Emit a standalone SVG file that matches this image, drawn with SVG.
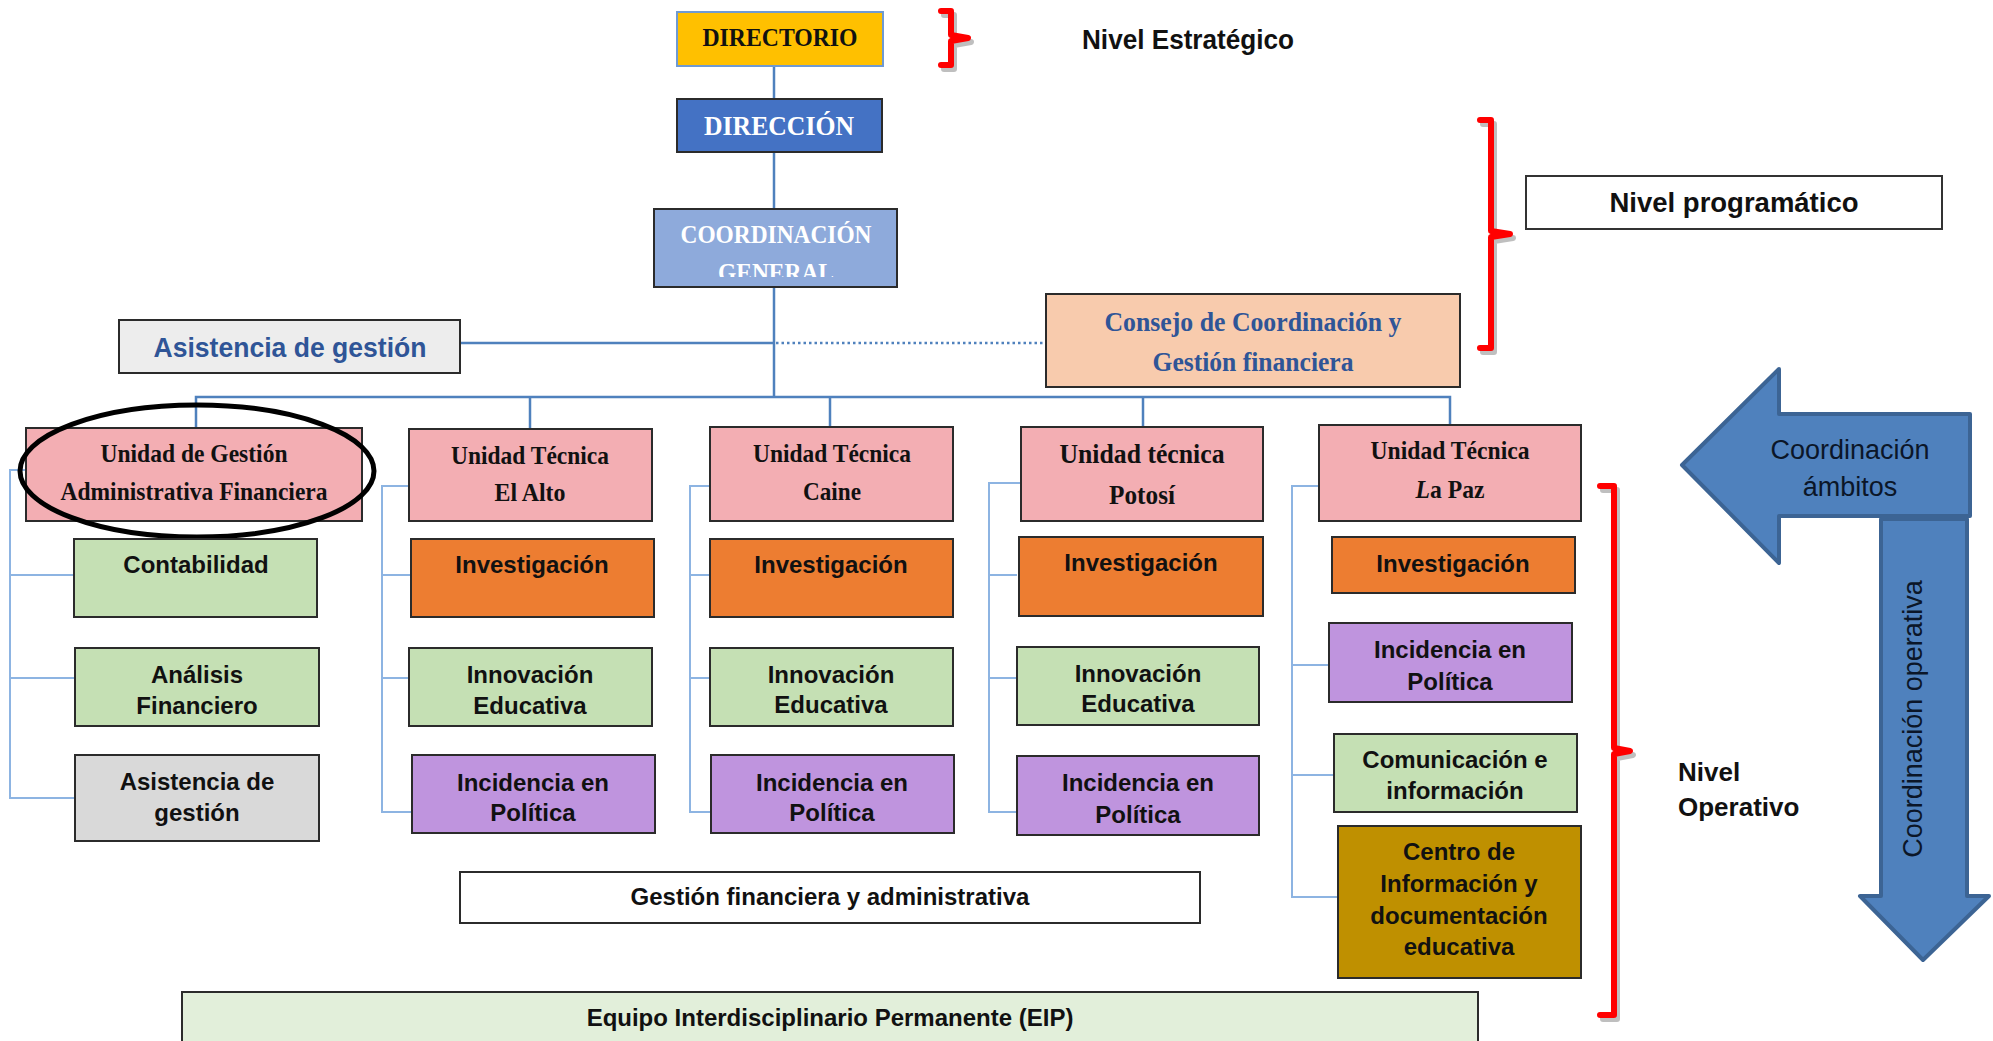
<svg xmlns="http://www.w3.org/2000/svg" width="1993" height="1041" viewBox="0 0 1993 1041">
<style>
.box{stroke:#2b2b2b;stroke-width:2}
.pink{fill:#F3AEB3}
.green{fill:#C5E0B4}
.orange{fill:#ED7D31}
.purple{fill:#BF94DE}
.grey{fill:#D9D9D9}
.mustard{fill:#BF9000}
.serif{font-family:"Liberation Serif","Times New Roman",serif;font-weight:bold;text-anchor:middle}
.sans{font-family:"Liberation Sans",Arial,sans-serif;font-weight:bold;text-anchor:middle;fill:#111}
.lbl{font-family:"Liberation Sans",Arial,sans-serif;font-weight:bold;fill:#111}
.trunk{stroke:#4F81BD;stroke-width:2.5;fill:none}
.branch{stroke:#8DB4E2;stroke-width:2;fill:none}
.brace{stroke:#FF0000;stroke-width:6;fill:none;stroke-linejoin:round;stroke-linecap:round}
.braceshadow{stroke:#000;stroke-opacity:0.25;stroke-width:6;fill:none;stroke-linejoin:round;stroke-linecap:round}
.arrow{fill:#4F81BD;stroke:#3C6494;stroke-width:4;stroke-linejoin:round}
.arrowtxt{font-family:"Liberation Sans",Arial,sans-serif;font-size:27px;fill:#0b1628;text-anchor:middle}
</style>
<defs>
<clipPath id="coordClip"><rect x="654" y="209" width="243" height="68"/></clipPath>
</defs>

<g id="connectors">
<line class="trunk" x1="774" y1="66" x2="774" y2="99"/>
<line class="trunk" x1="774" y1="152" x2="774" y2="209"/>
<line class="trunk" x1="774" y1="287" x2="774" y2="397"/>
<line class="trunk" x1="460" y1="343" x2="774" y2="343"/>
<line x1="776" y1="343" x2="1046" y2="343" stroke="#4F81BD" stroke-width="2.5" stroke-dasharray="2.5,3"/>
<polyline class="trunk" points="196,428 196,397 1450,397 1450,425"/>
<line class="trunk" x1="530" y1="397" x2="530" y2="429"/>
<line class="trunk" x1="830" y1="397" x2="830" y2="427"/>
<line class="trunk" x1="1143" y1="397" x2="1143" y2="427"/>
<path class="branch" d="M26,470 H10 V798 H75 M10,575 H74 M10,678 H75"/>
<path class="branch" d="M409,486 H382 V812 H412 M382,575 H416 M382,678 H409"/>
<path class="branch" d="M710,486 H690 V812 H711 M690,575 H710 M690,678 H710"/>
<path class="branch" d="M1021,483 H989 V812 H1019 M989,575 H1017 M989,678 H1017"/>
<path class="branch" d="M1319,486 H1292 V897 H1338 M1292,665 H1329 M1292,775 H1334"/>
</g>

<g id="directorio">
<rect x="677" y="12" width="206" height="54" fill="#FFC000" stroke="#6F9AD3" stroke-width="2"/>
<text class="serif" x="780" y="46" font-size="26" fill="#111" textLength="155" lengthAdjust="spacingAndGlyphs">DIRECTORIO</text>
</g>
<g id="direccion">
<rect class="box" x="677" y="99" width="205" height="53" fill="#4472C4"/>
<text class="serif" x="779" y="135" font-size="27" fill="#fff" textLength="150" lengthAdjust="spacingAndGlyphs">DIRECCIÓN</text>
</g>
<g id="coordinacion-general">
<rect class="box" x="654" y="209" width="243" height="78" fill="#8EAADB"/>
<g clip-path="url(#coordClip)">
<text class="serif" x="776" y="243" font-size="26" fill="#fff" textLength="191" lengthAdjust="spacingAndGlyphs">COORDINACIÓN</text>
<text class="serif" x="776" y="281" font-size="26" fill="#fff" textLength="116" lengthAdjust="spacingAndGlyphs">GENERAL</text>
</g>
</g>
<g id="asistencia-top">
<rect class="box" x="119" y="320" width="341" height="53" fill="#EDEDED"/>
<text class="sans" x="290" y="357" font-size="27" style="fill:#2F5597" textLength="273" lengthAdjust="spacingAndGlyphs">Asistencia de gestión</text>
</g>
<g id="consejo">
<rect class="box" x="1046" y="294" width="414" height="93" fill="#F8CBAD"/>
<text class="serif" x="1253" y="331" font-size="27" fill="#2F5597" textLength="297" lengthAdjust="spacingAndGlyphs">Consejo de Coordinación y</text>
<text class="serif" x="1253" y="371" font-size="27" fill="#2F5597" textLength="201" lengthAdjust="spacingAndGlyphs">Gestión financiera</text>
</g>
<g id="nivel-programatico">
<rect x="1526" y="176" width="416" height="53" fill="#fff" stroke="#333" stroke-width="2"/>
<text class="sans" x="1734" y="212" font-size="27" textLength="249" lengthAdjust="spacingAndGlyphs">Nivel programático</text>
</g>
<g id="nivel-estrategico">
<text class="sans" x="1188" y="49" font-size="27" textLength="212" lengthAdjust="spacingAndGlyphs">Nivel Estratégico</text>
</g>

<g id="ugaf">
<rect class="box pink" x="26" y="428" width="336" height="93"/>
<text class="serif" x="194" y="462" font-size="26" fill="#111" textLength="187" lengthAdjust="spacingAndGlyphs">Unidad de Gestión</text>
<text class="serif" x="194" y="500" font-size="26" fill="#111" textLength="267" lengthAdjust="spacingAndGlyphs">Administrativa Financiera</text>
<ellipse cx="197" cy="471" rx="177" ry="66" fill="none" stroke="#000" stroke-width="5"/>
</g>
<g id="contabilidad">
<rect class="box green" x="74" y="539" width="243" height="78"/>
<text class="sans" x="196" y="573" font-size="24">Contabilidad</text>
</g>
<g id="analisis">
<rect class="box green" x="75" y="648" width="244" height="78"/>
<text class="sans" x="197" y="683" font-size="24">Análisis</text>
<text class="sans" x="197" y="714" font-size="24">Financiero</text>
</g>
<g id="asistencia-ugaf">
<rect class="box grey" x="75" y="755" width="244" height="86"/>
<text class="sans" x="197" y="790" font-size="24">Asistencia de</text>
<text class="sans" x="197" y="821" font-size="24">gestión</text>
</g>

<g id="ut-el-alto">
<rect class="box pink" x="409" y="429" width="243" height="92"/>
<text class="serif" x="530" y="464" font-size="26" fill="#111" textLength="158" lengthAdjust="spacingAndGlyphs">Unidad Técnica</text>
<text class="serif" x="530" y="501" font-size="26" fill="#111" textLength="71" lengthAdjust="spacingAndGlyphs">El Alto</text>
</g>
<g id="elalto-inv">
<rect class="box orange" x="411" y="539" width="243" height="78"/>
<text class="sans" x="532" y="573" font-size="24">Investigación</text>
</g>
<g id="elalto-inn">
<rect class="box green" x="409" y="648" width="243" height="78"/>
<text class="sans" x="530" y="683" font-size="24">Innovación</text>
<text class="sans" x="530" y="714" font-size="24">Educativa</text>
</g>
<g id="elalto-inc">
<rect class="box purple" x="412" y="755" width="243" height="78"/>
<text class="sans" x="533" y="791" font-size="24">Incidencia en</text>
<text class="sans" x="533" y="821" font-size="24">Política</text>
</g>

<g id="ut-caine">
<rect class="box pink" x="710" y="427" width="243" height="94"/>
<text class="serif" x="832" y="462" font-size="26" fill="#111" textLength="158" lengthAdjust="spacingAndGlyphs">Unidad Técnica</text>
<text class="serif" x="832" y="500" font-size="26" fill="#111" textLength="58" lengthAdjust="spacingAndGlyphs">Caine</text>
</g>
<g id="caine-inv">
<rect class="box orange" x="710" y="539" width="243" height="78"/>
<text class="sans" x="831" y="573" font-size="24">Investigación</text>
</g>
<g id="caine-inn">
<rect class="box green" x="710" y="648" width="243" height="78"/>
<text class="sans" x="831" y="683" font-size="24">Innovación</text>
<text class="sans" x="831" y="713" font-size="24">Educativa</text>
</g>
<g id="caine-inc">
<rect class="box purple" x="711" y="755" width="243" height="78"/>
<text class="sans" x="832" y="791" font-size="24">Incidencia en</text>
<text class="sans" x="832" y="821" font-size="24">Política</text>
</g>

<g id="ut-potosi">
<rect class="box pink" x="1021" y="427" width="242" height="94"/>
<text class="serif" x="1142" y="463" font-size="27" fill="#111" textLength="165" lengthAdjust="spacingAndGlyphs">Unidad técnica</text>
<text class="serif" x="1142" y="504" font-size="27" fill="#111" textLength="66" lengthAdjust="spacingAndGlyphs">Potosí</text>
</g>
<g id="potosi-inv">
<rect class="box orange" x="1019" y="537" width="244" height="79"/>
<text class="sans" x="1141" y="571" font-size="24">Investigación</text>
</g>
<g id="potosi-inn">
<rect class="box green" x="1017" y="647" width="242" height="78"/>
<text class="sans" x="1138" y="682" font-size="24">Innovación</text>
<text class="sans" x="1138" y="712" font-size="24">Educativa</text>
</g>
<g id="potosi-inc">
<rect class="box purple" x="1017" y="756" width="242" height="79"/>
<text class="sans" x="1138" y="791" font-size="24">Incidencia en</text>
<text class="sans" x="1138" y="823" font-size="24">Política</text>
</g>

<g id="ut-la-paz">
<rect class="box pink" x="1319" y="425" width="262" height="96"/>
<text class="serif" x="1450" y="459" font-size="25" fill="#111" textLength="159" lengthAdjust="spacingAndGlyphs">Unidad Técnica</text>
<text class="serif" x="1450" y="498" font-size="25" fill="#111" textLength="69" lengthAdjust="spacingAndGlyphs"><tspan font-style="italic">L</tspan>a Paz</text>
</g>
<g id="lapaz-inv">
<rect class="box orange" x="1332" y="537" width="243" height="56"/>
<text class="sans" x="1453" y="572" font-size="24">Investigación</text>
</g>
<g id="lapaz-inc">
<rect class="box purple" x="1329" y="623" width="243" height="79"/>
<text class="sans" x="1450" y="658" font-size="24">Incidencia en</text>
<text class="sans" x="1450" y="690" font-size="24">Política</text>
</g>
<g id="lapaz-com">
<rect class="box green" x="1334" y="734" width="243" height="78"/>
<text class="sans" x="1455" y="768" font-size="24">Comunicación e</text>
<text class="sans" x="1455" y="799" font-size="24">información</text>
</g>
<g id="lapaz-centro">
<rect class="box mustard" x="1338" y="826" width="243" height="152"/>
<text class="sans" x="1459" y="860" font-size="24">Centro de</text>
<text class="sans" x="1459" y="892" font-size="24">Información y</text>
<text class="sans" x="1459" y="924" font-size="24">documentación</text>
<text class="sans" x="1459" y="955" font-size="24">educativa</text>
</g>

<g id="gestion-financiera">
<rect class="box" x="460" y="872" width="740" height="51" fill="#fff"/>
<text class="sans" x="830" y="905" font-size="24">Gestión financiera y administrativa</text>
</g>
<g id="eip">
<rect class="box" x="182" y="992" width="1296" height="60" fill="#E2EFDA"/>
<text class="sans" x="830" y="1026" font-size="24">Equipo Interdisciplinario Permanente (EIP)</text>
</g>

<g id="braces">
<path class="braceshadow" transform="translate(3,4)" d="M941,11 H951 V35 L968,38 L951,41 V65 H941"/>
<path class="brace" d="M941,11 H951 V35 L968,38 L951,41 V65 H941"/>
<path class="braceshadow" transform="translate(3,4)" d="M1480,120 H1491 V231 L1510,234 L1491,237 V348 H1480"/>
<path class="brace" d="M1480,120 H1491 V231 L1510,234 L1491,237 V348 H1480"/>
<path class="braceshadow" transform="translate(3,4)" d="M1600,486 H1614 V748 L1630,751 L1614,754 V1015 H1600"/>
<path class="brace" d="M1600,486 H1614 V748 L1630,751 L1614,754 V1015 H1600"/>
</g>
<g id="nivel-operativo">
<text class="lbl" x="1678" y="781" font-size="26">Nivel</text>
<text class="lbl" x="1678" y="816" font-size="26">Operativo</text>
</g>

<g id="arrow-ambitos">
<polygon class="arrow" points="1970,414 1779,414 1779,369 1682,465 1779,563 1779,516 1970,516"/>
<text class="arrowtxt" x="1850" y="459">Coordinación</text>
<text class="arrowtxt" x="1850" y="496">ámbitos</text>
</g>
<g id="arrow-operativa">
<polygon class="arrow" points="1881,519 1967,519 1967,896 1989,896 1923,960 1860,896 1881,896"/>
<text class="arrowtxt" transform="translate(1912,719) rotate(-90)" x="0" y="10" font-size="28">Coordinación operativa</text>
</g>
</svg>
